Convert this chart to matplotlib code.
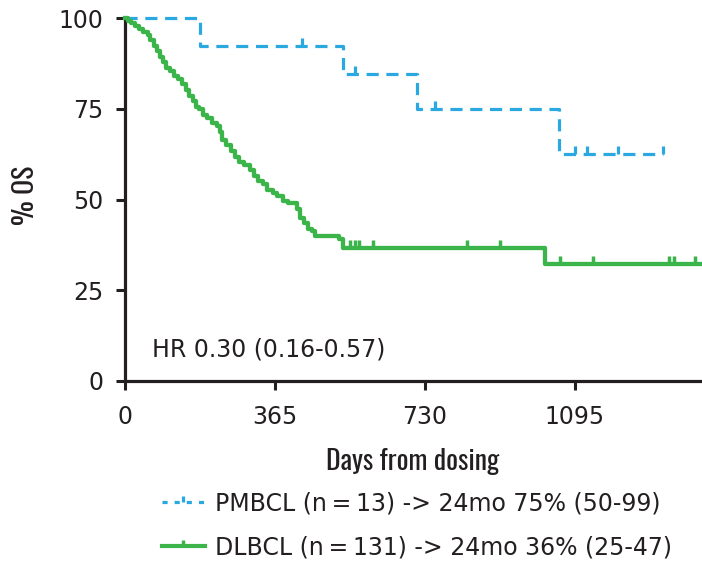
import matplotlib
matplotlib.use("Agg")
import matplotlib.pyplot as plt
from matplotlib.lines import Line2D
from matplotlib.path import Path
import matplotlib.font_manager as fm

# ---------------- data ----------------
pmbcl_days = [0, 182, 530, 710, 1058, 1311]
pmbcl_surv = [100, 92.3, 84.6, 75.0, 62.5, 62.5]
pmbcl_cens_days = [431, 560, 755, 1096, 1125, 1201, 1311]
pmbcl_cens_surv = [92.3, 84.6, 75.0, 62.5, 62.5, 62.5, 62.5]

dlbcl_days = [0, 8, 15, 25, 35, 45, 55, 62, 70, 78, 85, 92, 100, 110, 120, 130,
              140, 148, 156, 165, 172, 180, 190, 200, 212, 225, 232, 236, 245,
              258, 268, 278, 290, 304, 315, 324, 335, 346, 360, 370, 385, 398,
              419, 426, 436, 446, 455, 463, 522, 531, 1023, 1405]
dlbcl_surv = [100, 99.2, 98.5, 97.7, 96.9, 96.2, 95.4, 93.9, 92.4, 90.8, 89.3,
              87.8, 86.3, 85.5, 84.0, 83.2, 81.7, 80.2, 78.6, 77.1, 75.6, 74.8,
              73.3, 72.5, 71.0, 70.2, 68.7, 66.4, 64.9, 63.4, 61.8, 60.3, 59.5,
              58.0, 56.5, 55.0, 54.2, 52.7, 51.9, 51.1, 49.6, 48.9, 47.3, 45.0,
              43.5, 42.0, 41.2, 40.0, 39.2, 36.7, 32.1, 32.1]
dlbcl_cens_days = [548, 560, 570, 604, 833, 914, 1060, 1140, 1325, 1338, 1389]
dlbcl_cens_surv = [36.7, 36.7, 36.7, 36.7, 36.7, 36.7, 32.1, 32.1, 32.1, 32.1, 32.1]

xticks = [0, 365, 730, 1095]
yticks = [0, 25, 50, 75, 100]
labels = ["PMBCL (n\u2009=\u200913) -> 24mo 75% (50-99)",
          "DLBCL (n\u2009=\u2009131) -> 24mo 36% (25-47)"]
hr_text = "HR 0.30 (0.16-0.57)"
xlabel = "Days from dosing"
ylabel = "% OS"

# ---------------- style ----------------
blue = "#2aa9e0"
green = "#3bb54a"
ink = "#231f20"
names = {f.name for f in fm.fontManager.ttflist}
cond_font = "Oswald" if "Oswald" in names else "DejaVu Sans"
plt.rcParams["font.family"] = ["DejaVu Sans"]

tick_up = Path([(0, 0), (0, 1)], [Path.MOVETO, Path.LINETO])

fig = plt.figure(figsize=(7.02, 5.63), dpi=100)
ax = fig.add_axes([125 / 702, 182 / 563, 577 / 702, 363 / 563])

ax.step(pmbcl_days, pmbcl_surv, where="post", color=blue, lw=2.3,
        dashes=(3.8, 2.4), clip_on=False, zorder=3)
ax.plot(pmbcl_cens_days, pmbcl_cens_surv, ls="none", marker=tick_up,
        ms=11, mew=2.3, color=blue, clip_on=False, zorder=3)
ax.step(dlbcl_days, dlbcl_surv, where="post", color=green, lw=3.1,
        clip_on=False, zorder=4)
ax.plot(dlbcl_cens_days, dlbcl_cens_surv, ls="none", marker=tick_up,
        ms=11, mew=2.5, color=green, clip_on=False, zorder=4)

ax.set_xlim(0, 1405)
ax.set_ylim(0, 100)
ax.set_xticks(xticks)
ax.set_yticks(yticks)
for s in ["top", "right"]:
    ax.spines[s].set_visible(False)
for s in ["left", "bottom"]:
    ax.spines[s].set_linewidth(2.3)
    ax.spines[s].set_color(ink)
ax.tick_params(axis="both", direction="out", length=6.5, width=2.2,
               labelsize=17, colors=ink)
ax.tick_params(axis="y", pad=9)
ax.tick_params(axis="x", pad=10.5)

ax.set_xlabel(xlabel, fontsize=20, family=[cond_font, "DejaVu Sans"], color=ink,
              va="baseline")
ax.xaxis.set_label_coords(0.499, (381 - 470) / 363)
ax.set_ylabel(ylabel, fontsize=20, family=[cond_font, "DejaVu Sans"], color=ink,
              va="center", ha="center")
ax.yaxis.set_label_coords((25 - 125) / 577, (381 - 195) / 363)

ax.text((152 - 125) / 577, (381 - 357) / 363, hr_text, transform=ax.transAxes,
        fontsize=17, ha="left", va="baseline", color=ink)

handles = [
    Line2D([], [], color=blue, lw=2.3, dashes=(1.6, 2.2), marker=tick_up,
           ms=9, mew=2.3),
    Line2D([], [], color=green, lw=3.0, marker=tick_up, ms=9, mew=2.5),
]
leg = fig.legend(handles, labels, loc="upper left",
                 bbox_to_anchor=(162 / 702, 1 - 491 / 563),
                 frameon=False, fontsize=17, handlelength=1.8, handletextpad=0.45,
                 labelspacing=0.85, numpoints=1, borderaxespad=0, borderpad=0)
for t in leg.get_texts():
    t.set_color(ink)

fig.savefig("out.png", dpi=100)
